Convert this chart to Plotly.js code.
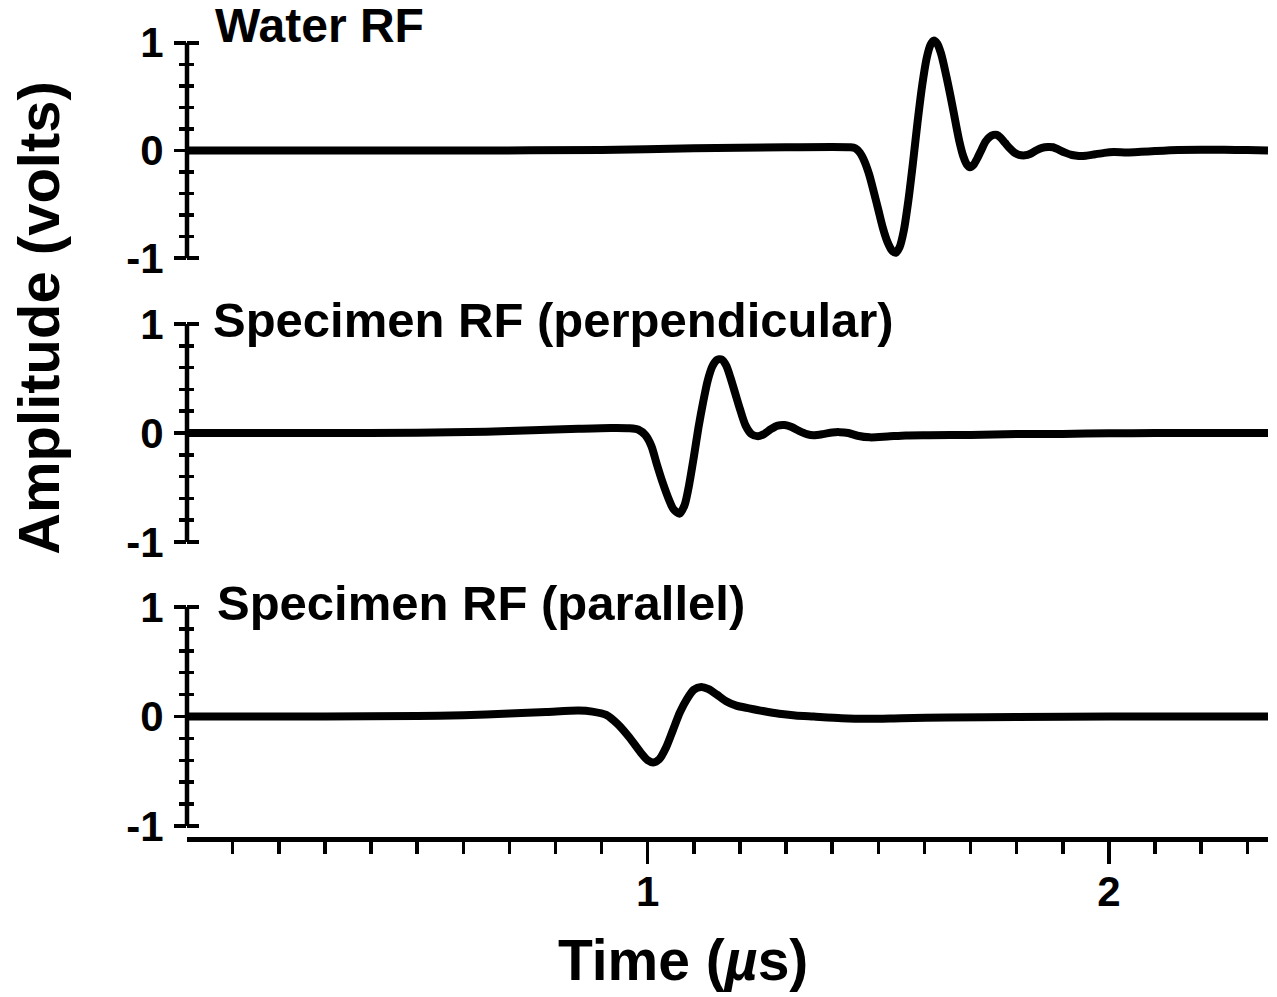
<!DOCTYPE html>
<html>
<head>
<meta charset="utf-8">
<script src="https://cdn.plot.ly/plotly-3.0.1.min.js"></script>
<style>html,body{margin:0;padding:0;background:#fff;}#chart{width:1277px;height:997px;}</style>
</head>
<body>
<div id="chart"></div>
<script>
// ---------- DATA ----------
const timeWater = [0, 0.3, 0.6, 0.9, 1.1, 1.3, 1.44, 1.45, 1.46, 1.47, 1.48, 1.49, 1.50, 1.51, 1.52, 1.53, 1.538, 1.546, 1.555, 1.565, 1.575, 1.585, 1.595, 1.605, 1.613, 1.620, 1.628, 1.636, 1.645, 1.652, 1.660, 1.668, 1.676, 1.684, 1.692, 1.699, 1.707, 1.715, 1.724, 1.732, 1.741, 1.750, 1.757, 1.765, 1.775, 1.785, 1.795, 1.805, 1.818, 1.830, 1.842, 1.855, 1.868, 1.879, 1.890, 1.905, 1.920, 1.935, 1.950, 1.970, 1.990, 2.010, 2.040, 2.070, 2.100, 2.150, 2.200, 2.250, 2.300, 2.345];
const ampWater = [0, 0, 0, 0.005, 0.02, 0.03, 0.03, 0.02, -0.02, -0.10, -0.22, -0.38, -0.55, -0.72, -0.85, -0.93, -0.95, -0.90, -0.75, -0.47, -0.12, 0.26, 0.60, 0.86, 0.98, 1.02, 0.99, 0.90, 0.74, 0.60, 0.43, 0.25, 0.08, -0.05, -0.13, -0.155, -0.13, -0.07, 0.01, 0.08, 0.125, 0.145, 0.145, 0.12, 0.07, 0.02, -0.02, -0.04, -0.045, -0.03, 0.0, 0.025, 0.033, 0.03, 0.01, -0.02, -0.042, -0.05, -0.048, -0.035, -0.022, -0.015, -0.018, -0.012, -0.005, 0.005, 0.008, 0.006, 0.004, 0.0];

const timePerp = [0, 0.3, 0.5, 0.65, 0.75, 0.85, 0.92, 0.96, 0.98, 0.995, 1.008, 1.02, 1.032, 1.045, 1.056, 1.069, 1.080, 1.090, 1.100, 1.110, 1.120, 1.130, 1.140, 1.150, 1.160, 1.170, 1.180, 1.190, 1.200, 1.212, 1.225, 1.239, 1.252, 1.267, 1.282, 1.297, 1.312, 1.328, 1.345, 1.360, 1.380, 1.400, 1.416, 1.435, 1.455, 1.482, 1.52, 1.56, 1.61, 1.70, 1.80, 1.90, 2.00, 2.10, 2.20, 2.345];
const ampPerp = [0, 0, 0.003, 0.012, 0.025, 0.038, 0.045, 0.043, 0.03, -0.02, -0.12, -0.29, -0.45, -0.60, -0.70, -0.74, -0.66, -0.47, -0.22, 0.05, 0.28, 0.48, 0.61, 0.67, 0.675, 0.62, 0.50, 0.36, 0.22, 0.07, -0.01, -0.03, -0.01, 0.035, 0.068, 0.073, 0.055, 0.02, -0.01, -0.02, -0.01, 0.005, 0.008, 0.0, -0.025, -0.04, -0.032, -0.022, -0.02, -0.018, -0.01, -0.008, -0.003, 0.0, 0.0, 0.0];

const timePara = [0, 0.3, 0.5, 0.6, 0.7, 0.78, 0.85, 0.88, 0.91, 0.935, 0.96, 0.985, 1.000, 1.012, 1.025, 1.040, 1.055, 1.070, 1.085, 1.100, 1.116, 1.132, 1.150, 1.170, 1.192, 1.220, 1.250, 1.285, 1.320, 1.360, 1.420, 1.480, 1.550, 1.650, 1.800, 2.000, 2.345];
const ampPara = [0, 0, 0.005, 0.012, 0.028, 0.042, 0.055, 0.045, 0.015, -0.07, -0.19, -0.33, -0.40, -0.42, -0.39, -0.28, -0.12, 0.04, 0.16, 0.245, 0.27, 0.25, 0.20, 0.14, 0.10, 0.075, 0.05, 0.025, 0.01, 0.0, -0.015, -0.02, -0.015, -0.01, -0.005, 0.0, 0.0];

const panelLabels = ['Water RF', 'Specimen RF (perpendicular)', 'Specimen RF (parallel)'];
const yTickVals = [-1, 0, 1];
const yTickText = ['-1', '0', '1'];
const xTickVals = [1, 2];
const xTickText = ['1', '2'];
const axisExtent = [-1, 1];
const xTitle = 'Time (<i>µ</i>s)';
const yTitle = 'Amplitude (volts)';

// ---------- STYLE ----------
const FONT = 'Liberation Sans, Arial, Helvetica, sans-serif';
const lineStyle = {color: 'black', width: 8, shape: 'spline', smoothing: 0.7};

const series = [
  {t: timeWater, a: ampWater, y: 'y', ov: 'y4'},
  {t: timePerp, a: ampPerp, y: 'y2', ov: 'y5'},
  {t: timePara, a: ampPara, y: 'y3', ov: 'y6'}
];

const traces = [];
series.forEach(s => {
  traces.push({x: s.t, y: s.a, xaxis: 'x', yaxis: s.y, mode: 'lines', line: lineStyle, hoverinfo: 'skip', showlegend: false});
  traces.push({x: s.t, y: s.a, xaxis: 'x', yaxis: s.ov, mode: 'lines', line: {color: 'rgba(0,0,0,0)', width: 0}, opacity: 0, hoverinfo: 'skip', showlegend: false});
});

function yAx(domain, inside, overlay) {
  const ax = {
    range: [-1.1, 1.1], anchor: 'x', showline: false, zeroline: false, showgrid: false,
    ticks: inside ? 'inside' : 'outside', tickmode: 'array', tickvals: yTickVals, ticktext: yTickText,
    ticklen: 12, tickwidth: 3.5, tickcolor: 'black',
    minor: {tick0: 0, dtick: 0.2, ticklen: 7, tickwidth: 3.5, tickcolor: 'black', ticks: inside ? 'inside' : 'outside'},
    showticklabels: !inside,
    tickfont: {family: FONT, size: 42, weight: 'bold', color: 'black'},
    ticklabelstandoff: 2,
    fixedrange: true
  };
  if (overlay) ax.overlaying = overlay; else ax.domain = domain;
  return ax;
}

const domains = [[0.7056, 1], [0.3529, 0.6508], [0, 0.2993]];
const labelPos = [[0.0245, 1.0075], [0.0225, 0.6422], [0.0255, 0.2907]];
const labelSize = [48, 49, 49];

const annotations = panelLabels.map((txt, i) => ({
  text: txt, xref: 'paper', yref: 'paper', x: labelPos[i][0], y: labelPos[i][1],
  xanchor: 'left', yanchor: 'middle', showarrow: false,
  font: {family: FONT, size: labelSize[i], weight: 'bold', color: 'black'}
}));
annotations.push({
  text: xTitle, xref: 'paper', yref: 'paper', x: 0.4588, y: -0.153,
  xanchor: 'center', yanchor: 'middle', showarrow: false,
  font: {family: FONT, size: 57, weight: 'bold', color: 'black'}
});
annotations.push({
  text: yTitle, xref: 'paper', yref: 'paper', x: -0.138, y: 0.6447, textangle: -90,
  xanchor: 'center', yanchor: 'middle', showarrow: false,
  font: {family: FONT, size: 58, weight: 'bold', color: 'black'}
});

const shapes = ['y', 'y2', 'y3'].map(yr => ({
  type: 'line', xref: 'paper', yref: yr, x0: 0, x1: 0, y0: axisExtent[0], y1: axisExtent[1],
  line: {color: 'black', width: 4.5}
}));

const layout = {
  width: 1277, height: 997,
  margin: {l: 187, r: 9, t: 32, b: 160, pad: 0},
  paper_bgcolor: 'white', plot_bgcolor: 'white',
  showlegend: false,
  font: {family: FONT, color: 'black'},
  xaxis: {
    range: [0.001, 2.345], anchor: 'y3', showline: true, linewidth: 4.5, linecolor: 'black',
    ticks: 'outside', tickmode: 'array', tickvals: xTickVals, ticktext: xTickText,
    ticklen: 22, tickwidth: 3.5, tickcolor: 'black',
    minor: {tick0: 0, dtick: 0.1, ticklen: 12, tickwidth: 3.5, tickcolor: 'black', ticks: 'outside'},
    tickfont: {family: FONT, size: 42, weight: 'bold', color: 'black'},
    ticklabelstandoff: -8,
    showgrid: false, zeroline: false, fixedrange: true
  },
  yaxis: yAx(domains[0], false),
  yaxis2: yAx(domains[1], false),
  yaxis3: yAx(domains[2], false),
  yaxis4: yAx(null, true, 'y'),
  yaxis5: yAx(null, true, 'y2'),
  yaxis6: yAx(null, true, 'y3'),
  annotations: annotations,
  shapes: shapes
};

Plotly.newPlot('chart', traces, layout, {displayModeBar: false, staticPlot: true});
</script>
</body>
</html>
